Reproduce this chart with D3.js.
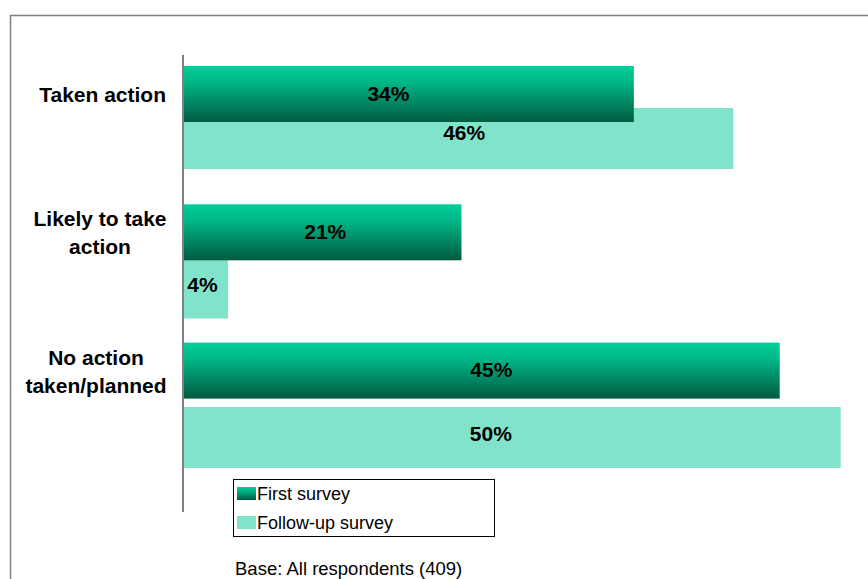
<!DOCTYPE html>
<html><head><meta charset="utf-8">
<script src="https://cdn.jsdelivr.net/npm/d3@7"></script>
<style>body{margin:0;background:#fff}svg{display:block}</style>
</head><body>
<script>
const categories = ["Taken action", "Likely to take action", "No action taken/planned"];
const categoryLines = [["Taken action"], ["Likely to take", "action"], ["No action", "taken/planned"]];
const seriesNames = ["First survey", "Follow-up survey"];
const firstSurvey = [34, 21, 45];
const firstLabels = ["34%", "21%", "45%"];
const followUpLength = [41.5, 3.4, 49.6];
const followUpLabels = ["46%", "4%", "50%"];
const baseNote = "Base: All respondents (409)";

// layout constants
const W = 868, H = 579;
const FONT = "Liberation Sans, Arial, sans-serif";
const firstLabelDx = [-20, 3, 10];
const followLabelDx = [6, -3, -21];
const followLabelCy = [132, 284, 433];
const catX = [166, 100, 96];

const svg = d3.select("body").append("svg").attr("width", W).attr("height", H);
const defs = svg.append("defs");
const grad = defs.append("linearGradient").attr("id", "g1").attr("x1", 0).attr("y1", 0).attr("x2", 0).attr("y2", 1);
grad.append("stop").attr("offset", "0%").attr("stop-color", "#00cf99");
grad.append("stop").attr("offset", "30%").attr("stop-color", "#00b686");
grad.append("stop").attr("offset", "100%").attr("stop-color", "#015a40");
const pat = defs.append("pattern").attr("id", "p1").attr("width", 2).attr("height", 2).attr("patternUnits", "userSpaceOnUse");
pat.append("rect").attr("width", 2).attr("height", 2).attr("fill", "#8ae7cf");
pat.append("rect").attr("width", 1).attr("height", 1).attr("fill", "#78e0c5");
pat.append("rect").attr("x", 1).attr("y", 1).attr("width", 1).attr("height", 1).attr("fill", "#78e0c5");

// outer frame
svg.append("path").attr("d", `M10.5,${H+2} V15.5 H${W+2}`).attr("fill", "none").attr("stroke", "#808080").attr("stroke-width", 1.5);

const x = d3.scaleLinear().domain([0, 50]).range([183, 846]);
const hFirst = 56, hFollow = 61;
const yFirstScale = d3.scalePoint().domain(categories).range([66, 66 + 2 * 138.3]);
const yFollowScale = d3.scalePoint().domain(categories).range([108, 108 + 2 * 149.5]);

const g = svg.append("g");
g.selectAll("rect.fu").data(categories).join("rect").attr("class", "fu")
  .attr("x", x(0)).attr("y", d => yFollowScale(d)).attr("height", hFollow)
  .attr("width", (d, i) => x(followUpLength[i]) - x(0)).attr("fill", "url(#p1)");
g.selectAll("rect.fs").data(categories).join("rect").attr("class", "fs")
  .attr("x", x(0)).attr("y", d => yFirstScale(d)).attr("height", hFirst)
  .attr("width", (d, i) => x(firstSurvey[i]) - x(0)).attr("fill", "url(#g1)");

const lblStyle = s => s.attr("font-family", FONT).attr("font-weight", "bold").attr("font-size", 21).attr("fill", "#000");
g.selectAll("text.fl").data(categories).join("text").attr("class", "fl")
  .attr("x", (d, i) => (x(0) + x(firstSurvey[i])) / 2 + firstLabelDx[i]).attr("y", d => yFirstScale(d) + hFirst / 2 + 6.5)
  .attr("text-anchor", "middle").text((d, i) => firstLabels[i]).call(lblStyle);
g.selectAll("text.ul").data(categories).join("text").attr("class", "ul")
  .attr("x", (d, i) => (x(0) + x(followUpLength[i])) / 2 + followLabelDx[i]).attr("y", (d, i) => followLabelCy[i] + 7.5)
  .attr("text-anchor", "middle").text((d, i) => followUpLabels[i]).call(lblStyle);

// axis line
svg.append("line").attr("x1", 183).attr("x2", 183).attr("y1", 55).attr("y2", 512)
  .attr("stroke", "#808080").attr("stroke-width", 2);

// category labels
const catCy = [[94], [218, 246], [357, 385]];
categories.forEach((c, i) => {
  const multi = categoryLines[i].length > 1;
  categoryLines[i].forEach((ln, j) => {
    svg.append("text").attr("x", catX[i]).attr("y", catCy[i][j] + 7.5)
      .attr("text-anchor", multi ? "middle" : "end").text(ln).call(lblStyle);
  });
});

// legend
const lg = svg.append("g");
lg.append("rect").attr("x", 233.5).attr("y", 479.5).attr("width", 261).attr("height", 57).attr("fill", "#fff").attr("stroke", "#000").attr("stroke-width", 1);
const legendFills = ["url(#g1)", "url(#p1)"];
seriesNames.forEach((s, i) => {
  lg.append("rect").attr("x", 237).attr("y", 487 + i * 29).attr("width", 19).attr("height", 13).attr("fill", legendFills[i]);
  lg.append("text").attr("x", 257).attr("y", 500 + i * 29).attr("font-family", FONT)
    .attr("font-size", 18).attr("fill", "#000").text(s);
});

svg.append("text").attr("x", 235).attr("y", 575).attr("font-family", FONT)
  .attr("font-size", 18.5).attr("fill", "#000").text(baseNote);
</script>
</body></html>
